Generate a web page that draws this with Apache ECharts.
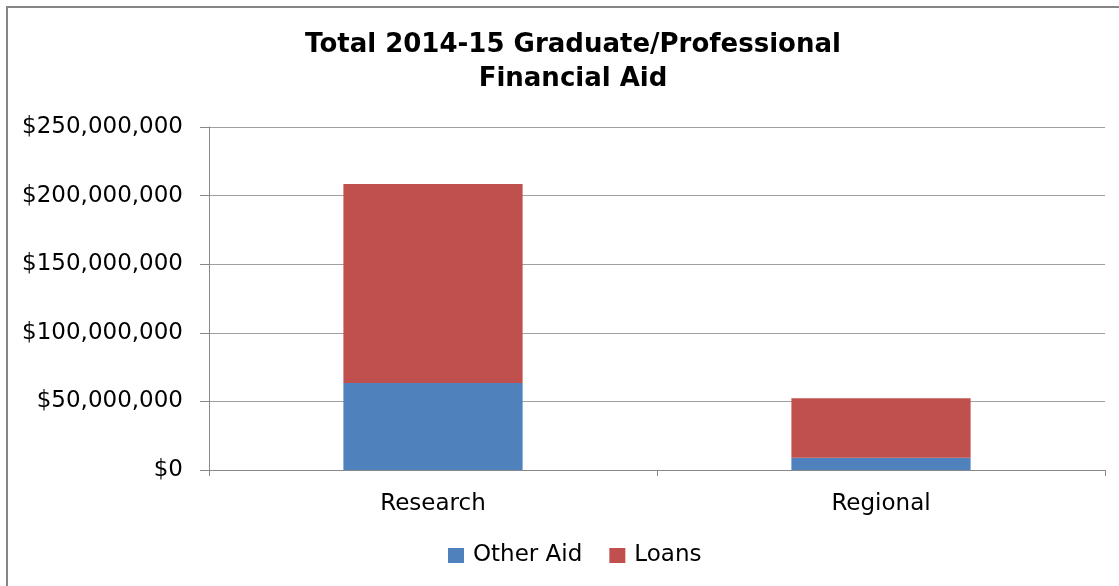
<!DOCTYPE html>
<html><head><meta charset="utf-8">
<script src="https://cdn.jsdelivr.net/npm/echarts@6/dist/echarts.min.js"></script>
<style>html,body{margin:0;padding:0;background:#fff}#c{width:1119px;height:586px}</style>
</head><body><div id="c"></div>
<script>
const categories = ['Research', 'Regional'];
const otherAid = [63500000, 9000000];
const loans = [144900000, 43300000];
const yTicks = [0, 50000000, 100000000, 150000000, 200000000, 250000000];
const seriesNames = ['Other Aid', 'Loans'];

const font = '"DejaVu Sans", sans-serif';
const fmt = v => '$' + v.toLocaleString('en-US');
const chart = echarts.init(document.getElementById('c'));
chart.setOption({
  animation: false,
  graphic: [{type: 'rect', shape: {x: 7, y: 7, width: 1200, height: 700}, style: {fill: 'none', stroke: '#868686', lineWidth: 2}, z: -1}],
  title: {text: 'Total 2014-15 Graduate/Professional\nFinancial Aid', left: 568, textAlign: 'center', top: 23,
    textStyle: {fontFamily: font, fontSize: 26, fontWeight: 'bold', color: '#000', lineHeight: 34}},
  legend: {data: seriesNames, top: 539, left: 443, itemWidth: 16, itemHeight: 15, itemGap: 27, icon: 'rect',
    textStyle: {fontFamily: font, fontSize: 23, color: '#000', padding: [0, 0, 0, 4]}},
  grid: {left: 209, right: 14, top: 127, bottom: 116},
  xAxis: {type: 'category', data: categories,
    axisLine: {lineStyle: {color: '#888', width: 1}},
    axisTick: {show: true, length: 6, lineStyle: {color: '#888'}},
    axisLabel: {fontFamily: font, fontSize: 23, color: '#000', margin: 23}},
  yAxis: {type: 'value', min: yTicks[0], max: yTicks[yTicks.length - 1], interval: 50000000,
    axisLine: {show: true, lineStyle: {color: '#888'}},
    axisTick: {show: true, length: 9, lineStyle: {color: '#888'}},
    splitLine: {lineStyle: {color: '#a0a0a0'}},
    axisLabel: {formatter: fmt, fontFamily: font, fontSize: 23, color: '#000', margin: 26, padding: [3, 0, 0, 0]}},
  series: [
    {name: seriesNames[0], type: 'bar', stack: 'a', data: otherAid, barWidth: '40%', itemStyle: {color: '#4F81BD'}},
    {name: seriesNames[1], type: 'bar', stack: 'a', data: loans, barWidth: '40%', itemStyle: {color: '#C0504D'}}
  ]
});
</script></body></html>
